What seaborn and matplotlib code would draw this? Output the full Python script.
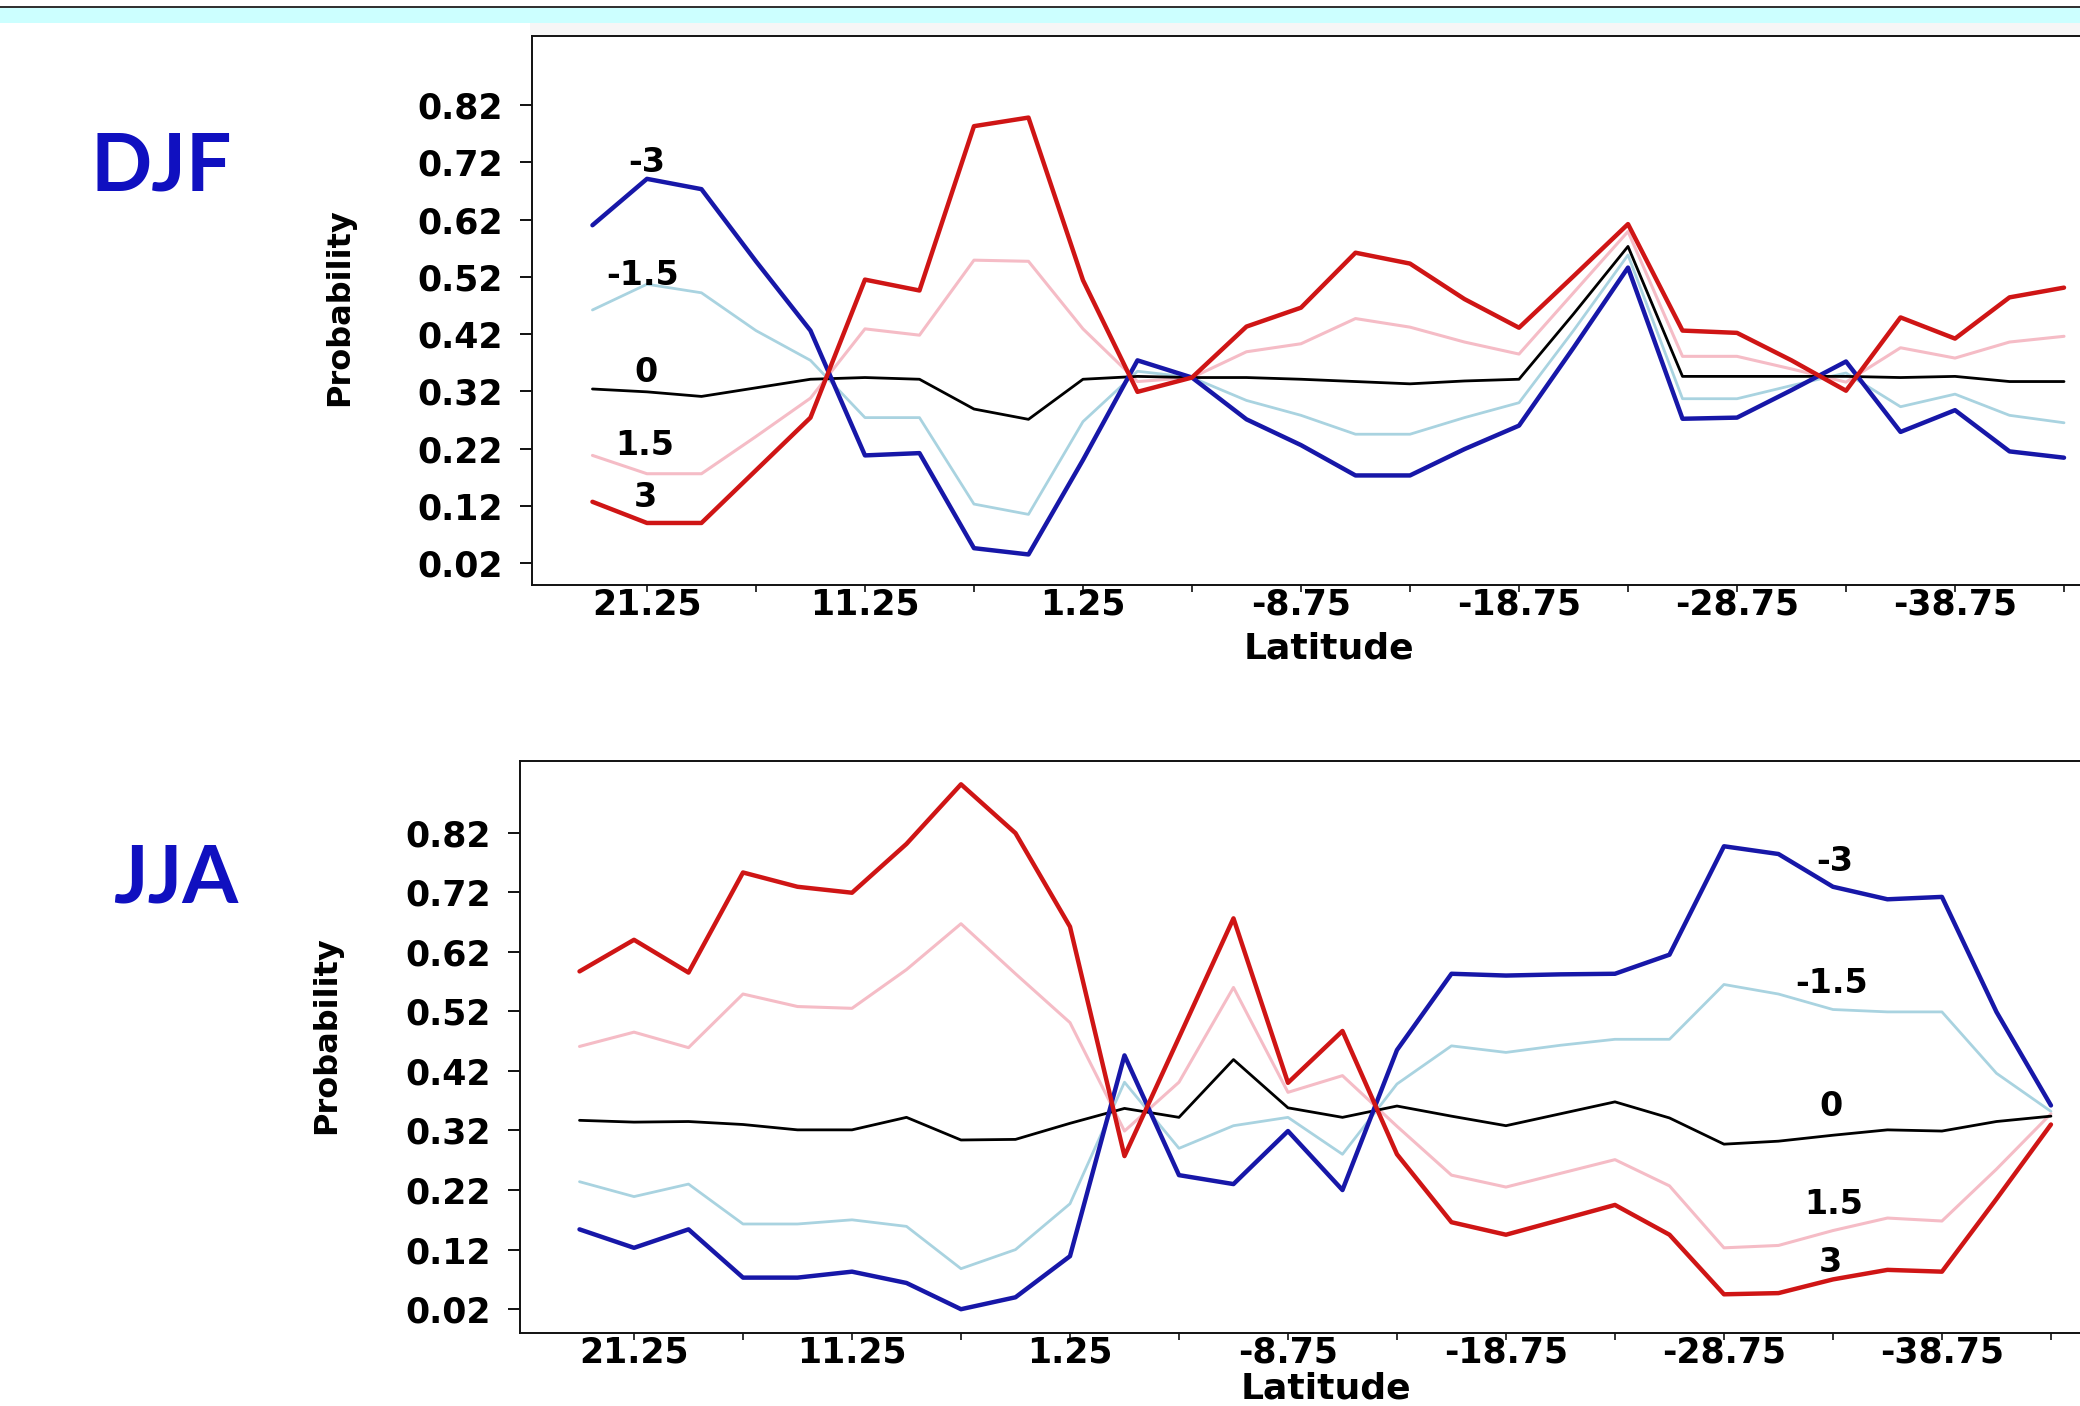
import matplotlib
matplotlib.use("Agg")
import matplotlib.pyplot as plt
import seaborn as sns
import pandas as pd
from matplotlib.patches import Rectangle

# ---------------- data ----------------
latitude = [23.75, 21.25, 18.75, 16.25, 13.75, 11.25, 8.75, 6.25, 3.75, 1.25,
            -1.25, -3.75, -6.25, -8.75, -11.25, -13.75, -16.25, -18.75, -21.25,
            -23.75, -26.25, -28.75, -31.25, -33.75, -36.25, -38.75, -41.25, -43.75]

series_labels = ["-3", "-1.5", "0", "1.5", "3"]

djf_m3 = [0.610, 0.691, 0.673, 0.547, 0.426, 0.208, 0.212, 0.046, 0.035, 0.200,
          0.374, 0.344, 0.271, 0.226, 0.173, 0.173, 0.219, 0.260, 0.396, 0.536,
          0.272, 0.274, 0.322, 0.372, 0.249, 0.287, 0.215, 0.204]
djf_m15 = [0.462, 0.507, 0.492, 0.426, 0.374, 0.274, 0.274, 0.123, 0.105, 0.267,
           0.355, 0.344, 0.304, 0.278, 0.245, 0.245, 0.274, 0.300, 0.426, 0.558,
           0.307, 0.307, 0.330, 0.352, 0.293, 0.315, 0.278, 0.265]
djf_0 = [0.324, 0.319, 0.311, 0.326, 0.341, 0.344, 0.341, 0.289, 0.271, 0.341,
         0.346, 0.344, 0.344, 0.341, 0.337, 0.333, 0.338, 0.341, 0.455, 0.573,
         0.346, 0.346, 0.346, 0.346, 0.344, 0.346, 0.337, 0.337]
djf_p15 = [0.208, 0.176, 0.176, 0.241, 0.308, 0.429, 0.418, 0.549, 0.547, 0.429,
           0.337, 0.344, 0.389, 0.403, 0.447, 0.432, 0.406, 0.385, 0.492, 0.599,
           0.381, 0.381, 0.359, 0.336, 0.396, 0.378, 0.406, 0.416]
djf_p3 = [0.127, 0.090, 0.090, 0.182, 0.274, 0.515, 0.496, 0.783, 0.798, 0.514,
          0.319, 0.344, 0.433, 0.466, 0.562, 0.543, 0.481, 0.431, 0.521, 0.612,
          0.426, 0.422, 0.374, 0.321, 0.449, 0.412, 0.484, 0.501]

jja_m3 = [0.154, 0.123, 0.154, 0.073, 0.073, 0.083, 0.064, 0.020, 0.040, 0.109,
          0.446, 0.245, 0.230, 0.319, 0.220, 0.455, 0.583, 0.580, 0.582, 0.583,
          0.615, 0.797, 0.784, 0.729, 0.708, 0.712, 0.519, 0.362]
jja_m15 = [0.234, 0.209, 0.230, 0.163, 0.163, 0.170, 0.159, 0.088, 0.120, 0.197,
           0.401, 0.290, 0.328, 0.342, 0.280, 0.398, 0.462, 0.451, 0.463, 0.473,
           0.473, 0.565, 0.549, 0.523, 0.519, 0.519, 0.416, 0.352]
jja_0 = [0.337, 0.334, 0.335, 0.330, 0.321, 0.321, 0.342, 0.304, 0.305, 0.332,
         0.357, 0.342, 0.439, 0.358, 0.342, 0.361, 0.344, 0.328, 0.348, 0.368,
         0.341, 0.297, 0.302, 0.312, 0.321, 0.319, 0.335, 0.344]
jja_p15 = [0.461, 0.485, 0.459, 0.549, 0.528, 0.525, 0.590, 0.667, 0.583, 0.501,
           0.319, 0.401, 0.560, 0.384, 0.412, 0.327, 0.245, 0.225, 0.248, 0.271,
           0.227, 0.123, 0.127, 0.152, 0.173, 0.168, 0.255, 0.348]
jja_p3 = [0.587, 0.640, 0.585, 0.753, 0.729, 0.719, 0.801, 0.901, 0.819, 0.662,
          0.277, 0.476, 0.676, 0.400, 0.487, 0.280, 0.166, 0.145, 0.170, 0.195,
          0.145, 0.045, 0.047, 0.070, 0.086, 0.083, 0.205, 0.330]

xtick_major = [21.25, 11.25, 1.25, -8.75, -18.75, -28.75, -38.75]
xtick_minor = [16.25, 6.25, -3.75, -13.75, -23.75, -33.75, -43.75]
ytick_vals = [0.02, 0.12, 0.22, 0.32, 0.42, 0.52, 0.62, 0.72, 0.82]

# label positions (latitude, probability) for in-plot series labels
djf_label_pos = {"-3": (21.25, 0.72), "-1.5": (21.45, 0.523), "0": (21.3, 0.352),
                 "1.5": (21.35, 0.226), "3": (21.3, 0.134)}
jja_label_pos = {"-3": (-33.85, 0.772), "-1.5": (-33.7, 0.566), "0": (-33.65, 0.361),
                 "1.5": (-33.8, 0.196), "3": (-33.65, 0.099)}

# ---------------- style ----------------
sns.set_style("ticks")
plt.rcParams['font.family'] = ['DejaVu Sans']
plt.rcParams['font.weight'] = 'bold'

colors = {"-3": "#1717A8", "-1.5": "#A9D3E0", "0": "#000000",
          "1.5": "#F5BCC6", "3": "#CF1515"}
widths = {"-3": 3.2, "-1.5": 2.0, "0": 2.0, "1.5": 2.2, "3": 3.2}
draw_order = ["-1.5", "1.5", "0", "-3", "3"]

fig = plt.figure(figsize=(20.8, 14.06), dpi=100)

# header band
fig.add_artist(Rectangle((0, 0.9941), 1, 0.0018, transform=fig.transFigure,
                         color="#333333", lw=0))
fig.add_artist(Rectangle((0, 0.9834), 1, 0.0107, transform=fig.transFigure,
                         color="#CCFFFF", lw=0))
fig.add_artist(Rectangle((0.2548, 0.9751), 1, 0.0083, transform=fig.transFigure,
                         color="#F6F6F6", lw=0))

ax_top = fig.add_axes([0.2558, 0.5839, 0.7514, 0.3905])
ax_bot = fig.add_axes([0.2500, 0.0519, 0.7572, 0.4068])

panels = [
    (ax_top, {"-3": djf_m3, "-1.5": djf_m15, "0": djf_0, "1.5": djf_p15, "3": djf_p3},
     (26.52, -45.17), (-0.0184, 0.9405), djf_label_pos, (-0.1132, 0.506), (0.51, -0.085)),
    (ax_bot, {"-3": jja_m3, "-1.5": jja_m15, "0": jja_0, "1.5": jja_p15, "3": jja_p3},
     (26.48, -45.77), (-0.020, 0.940), jja_label_pos, (-0.113, 0.521), (0.512, -0.068)),
]

for ax, data, xlim, ylim, lab_pos, ylab_xy, xlab_xy in panels:
    for key in draw_order:
        df = pd.DataFrame({"Latitude": latitude, "Probability": data[key]})
        sns.lineplot(data=df, x="Latitude", y="Probability", ax=ax,
                     color=colors[key], lw=widths[key], sort=False,
                     estimator=None, legend=False)
    for key in series_labels:
        lx, ly = lab_pos[key]
        ax.text(lx, ly, key, ha="center", va="center", fontsize=24,
                fontweight="bold", color="black")
    ax.set_xlim(*xlim)
    ax.set_ylim(*ylim)
    ax.set_xticks(xtick_major)
    ax.set_xticklabels([f"{v:.2f}" for v in xtick_major])
    ax.set_xticks(xtick_minor, minor=True)
    ax.set_yticks(ytick_vals)
    ax.set_yticklabels([f"{v:.2f}" for v in ytick_vals])
    ax.tick_params(axis="y", length=8.6, width=1.4, pad=12.5, labelsize=25,
                   color="#111111", labelcolor="black")
    ax.tick_params(axis="x", which="both", length=5, width=1.2, pad=-3,
                   labelsize=25, color="#111111", labelcolor="black")
    for lab in ax.get_xticklabels() + ax.get_yticklabels():
        lab.set_fontweight("bold")
    for side in ["left", "top", "bottom"]:
        ax.spines[side].set_visible(True)
        ax.spines[side].set_color("#111111")
        ax.spines[side].set_linewidth(1.4)
    ax.spines["right"].set_visible(False)
    ax.set_ylabel("Probability", fontsize=23, fontweight="bold", color="black")
    ax.yaxis.set_label_coords(*ylab_xy)
    ax.set_xlabel("Latitude", fontsize=26, fontweight="bold", color="black")
    ax.xaxis.set_label_coords(*xlab_xy)
    ax.xaxis.label.set_va("top")

fig.text(0.0774, 0.8812, "DJF", ha="center", va="center", fontsize=58,
         fontweight="bold", color="#1010C0", family=["Lato", "DejaVu Sans"])
fig.text(0.0846, 0.3748, "JJA", ha="center", va="center", fontsize=58,
         fontweight="bold", color="#1010C0", family=["Lato", "DejaVu Sans"])

fig.savefig("out.png", dpi=100)
